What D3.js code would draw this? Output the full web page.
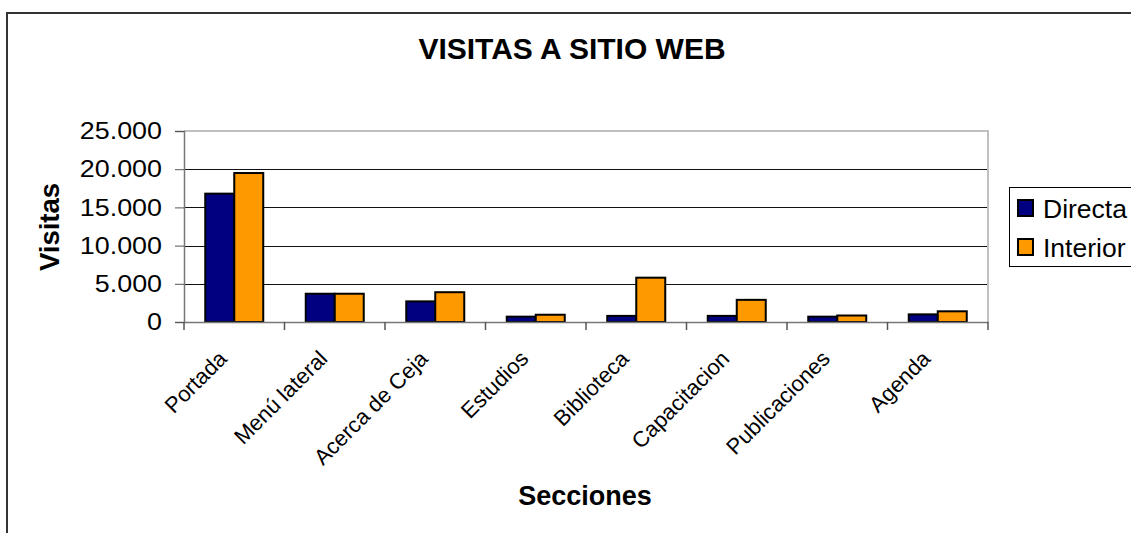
<!DOCTYPE html>
<html><head><meta charset="utf-8">
<script src="https://cdn.jsdelivr.net/npm/d3@7"></script>
<style>html,body{margin:0;padding:0;background:#fff;overflow:hidden}svg{display:block;font-family:Arial,"Liberation Sans",sans-serif}</style>
</head><body>
<script>
const categories = ["Portada","Menú lateral","Acerca de Ceja","Estudios","Biblioteca","Capacitacion","Publicaciones","Agenda"];
const seriesNames = ["Directa","Interior"];
const directa = [16800,3700,2700,700,800,800,700,1000];
const interior = [19500,3700,3900,950,5800,2900,850,1400];
const yTicks = [0,5000,10000,15000,20000,25000];
const colors = ["#000080","#FF9900"];
const title = "VISITAS A SITIO WEB";
const xTitle = "Secciones";
const yTitle = "Visitas";

const W = 1131, H = 533;
const svg = d3.select("body").append("svg").attr("width", W).attr("height", H);

// outer frame
svg.append("rect").attr("x", 7).attr("y", 13).attr("width", 1200).attr("height", 600)
  .attr("fill", "#fff").attr("stroke", "#333").attr("stroke-width", 2);

const pL = 184, pR = 988, pT = 131, pB = 322;
const x = d3.scaleBand().domain(categories).range([pL, pR]).paddingInner(0).paddingOuter(0);
const y = d3.scaleLinear().domain([0, 25000]).range([pB, pT]);
const inner = d3.scaleBand().domain(seriesNames).range([0, 58]);
const fmt = v => v === 0 ? "0" : d3.format(",")(v).replace(/,/g, ".");

// gridlines
svg.append("g").selectAll("line").data(yTicks.filter(t => t > 0 && t < 25000)).join("line")
  .attr("x1", pL).attr("x2", pR).attr("y1", d => Math.round(y(d)) + 0.5).attr("y2", d => Math.round(y(d)) + 0.5)
  .attr("stroke", "#111").attr("stroke-width", 1);

// plot border top/right
svg.append("path").attr("d", `M${pL},${pT}H${pR}V${pB}`).attr("fill", "none")
  .attr("stroke", "#c0c0c0").attr("stroke-width", 2);

// bars
const data = categories.map((c, i) => ({ c, vals: [directa[i], interior[i]] }));
const g = svg.append("g").selectAll("g").data(data).join("g")
  .attr("transform", d => `translate(${x(d.c) + (x.bandwidth() - 58) / 2},0)`);
g.selectAll("rect").data(d => d.vals.map((v, k) => ({ v, k }))).join("rect")
  .attr("x", d => inner(seriesNames[d.k]))
  .attr("y", d => y(d.v))
  .attr("width", inner.bandwidth())
  .attr("height", d => pB - y(d.v))
  .attr("fill", d => colors[d.k]).attr("stroke", "#000").attr("stroke-width", 2);

// y axis
const sx = 1.12;
const yAxis = svg.append("g").attr("transform", `translate(${pL},0)`)
  .call(d3.axisLeft(y).tickValues(yTicks).tickFormat(fmt).tickSize(9).tickPadding(13));
yAxis.select(".domain").attr("stroke", "#777").attr("stroke-width", 1.5);
yAxis.selectAll(".tick line").attr("stroke", "#555");
yAxis.selectAll("text").attr("font-size", 24).attr("fill", "#000")
  .attr("font-family", "Arial, 'Liberation Sans', sans-serif")
  .attr("x", -22 / sx).attr("transform", `scale(${sx},1)`);

// x axis
const xAxis = svg.append("g").attr("transform", `translate(0,${pB})`)
  .call(d3.axisBottom(x).tickSize(0).tickFormat(""));
xAxis.select(".domain").attr("stroke", "#777").attr("stroke-width", 1.5);
const bounds = categories.map(c => x(c)).concat([pR]);
svg.append("g").selectAll("line").data(bounds).join("line")
  .attr("x1", d => d).attr("x2", d => d).attr("y1", pB).attr("y2", pB + 8)
  .attr("stroke", "#555").attr("stroke-width", 1.5);

svg.append("g").selectAll("text").data(categories).join("text")
  .attr("transform", d => `translate(${x(d) + x.bandwidth() / 2 - 6},${pB + 38}) rotate(-45)`)
  .attr("text-anchor", "end").attr("font-size", 22).attr("fill", "#000").text(d => d);

// titles
svg.append("text").attr("x", 572).attr("y", 59).attr("text-anchor", "middle")
  .attr("font-size", 30).attr("font-weight", "bold").text(title);
svg.append("text").attr("x", 585).attr("y", 505).attr("text-anchor", "middle")
  .attr("font-size", 27).attr("font-weight", "bold").text(xTitle);
svg.append("text").attr("transform", "translate(59,227) rotate(-90)").attr("text-anchor", "middle")
  .attr("font-size", 27.5).attr("font-weight", "bold").text(yTitle);

// legend
const lg = svg.append("g");
lg.append("rect").attr("x", 1009.5).attr("y", 187.5).attr("width", 200).attr("height", 79)
  .attr("fill", "#fff").attr("stroke", "#000").attr("stroke-width", 1);
const li = lg.selectAll("g").data(seriesNames).join("g")
  .attr("transform", (d, i) => `translate(0,${208 + i * 39})`);
li.append("rect").attr("x", 1018).attr("y", -8).attr("width", 15).attr("height", 16)
  .attr("fill", (d, i) => colors[i]).attr("stroke", "#000").attr("stroke-width", 2);
li.append("text").attr("x", 1043).attr("y", 0).attr("dy", "0.36em").attr("font-size", 26.5).text(d => d);
</script>
</body></html>
